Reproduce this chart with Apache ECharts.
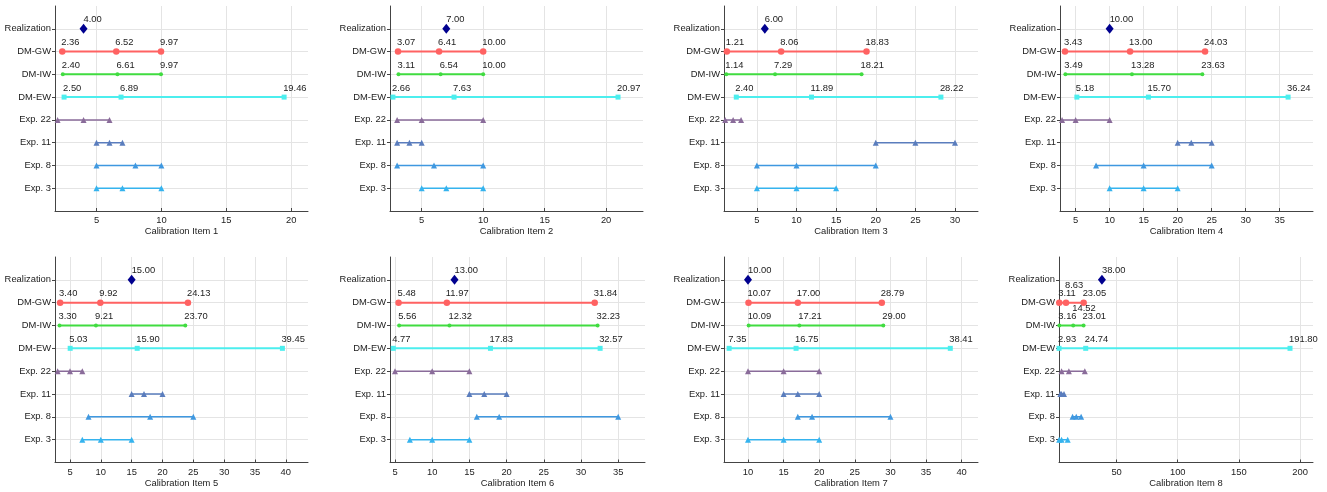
<!DOCTYPE html>
<html>
<head>
<meta charset="utf-8">
<script src="https://cdn.jsdelivr.net/npm/echarts@6/dist/echarts.min.js"></script>
<style>
  html, body { margin: 0; padding: 0; background: #fff; }
  #main { width: 1327px; height: 492px; }
</style>
</head>
<body>
<div id="main"></div>
<script>
// rows from bottom (y = 1) to top (y = 8)
const rowNames = ['Exp. 3', 'Exp. 8', 'Exp. 11', 'Exp. 22', 'DM-EW', 'DM-IW', 'DM-GW', 'Realization'];
const itemNames = ['Calibration Item 1', 'Calibration Item 2', 'Calibration Item 3', 'Calibration Item 4',
  'Calibration Item 5', 'Calibration Item 6', 'Calibration Item 7', 'Calibration Item 8'];

// 5% / 50% / 95% per calibration item
const realization = [4, 7, 6, 10, 15, 13, 10, 38];
const dmGW = [[2.36, 6.52, 9.97], [3.07, 6.41, 10.00], [1.21, 8.06, 18.83], [3.43, 13.00, 24.03],
  [3.40, 9.92, 24.13], [5.48, 11.97, 31.84], [10.07, 17.00, 28.79], [3.11, 8.63, 23.05]];
const dmIW = [[2.40, 6.61, 9.97], [3.11, 6.54, 10.00], [1.14, 7.29, 18.21], [3.49, 13.28, 23.63],
  [3.30, 9.21, 23.70], [5.56, 12.32, 32.23], [10.09, 17.21, 29.00], [3.16, 14.52, 23.01]];
const dmEW = [[2.50, 6.89, 19.46], [2.66, 7.63, 20.97], [2.40, 11.89, 28.22], [5.18, 15.70, 36.24],
  [5.03, 15.90, 39.45], [4.77, 17.83, 32.57], [7.35, 16.75, 38.41], [2.93, 24.74, 191.80]];
const exp22 = [[2, 4, 6], [3, 5, 10], [1, 2, 3], [3, 5, 10], [3, 5, 7], [5, 10, 15], [10, 15, 20], [5, 11, 24]];
const exp11 = [[5, 6, 7], [3, 4, 5], [20, 25, 30], [20, 22, 25], [15, 17, 20], [15, 17, 20], [15, 17, 20], [4, 5, 7]];
const exp8 = [[5, 8, 10], [3, 6, 10], [5, 10, 20], [8, 15, 25], [8, 18, 25], [16, 19, 35], [17, 19, 30], [14, 17, 21]];
const exp3 = [[5, 7, 10], [5, 7, 10], [5, 10, 15], [10, 15, 20], [7, 10, 15], [7, 10, 15], [10, 15, 20], [3, 5, 10]];

// axis limits and tick labels
const xMin = [1.8, 2.42, 0.85, 2.7, 2.57, 4.33, 6.63, 2.9];
const xMax = [21.3, 23.0, 32.9, 39.9, 43.6, 38.6, 42.3, 210.6];
const xTicks = [[5, 10, 15, 20], [5, 10, 15, 20], [5, 10, 15, 20, 25, 30], [5, 10, 15, 20, 25, 30, 35],
  [5, 10, 15, 20, 25, 30, 35, 40], [5, 10, 15, 20, 25, 30, 35], [10, 15, 20, 25, 30, 35, 40], [50, 100, 150, 200]];
const yTicks = [1, 2, 3, 4, 5, 6, 7, 8];

// panel boxes: left, top, width, height
const boxes = [
  [55, 6, 253, 205], [390, 6, 253, 205], [724, 6, 254, 205], [1060, 6, 253, 205],
  [55, 257, 253, 205.5], [390, 257, 255, 205.5], [724, 257, 254, 205.5], [1059, 257, 254, 205.5]
];

const font = '"Liberation Sans", Arial, sans-serif';
const fs = 9.4;
const textColor = '#222';
const axisColor = '#444';
const gridColor = '#e4e4e4';

const rowStyles = [
  { data: exp3, symbol: 'triangle', size: 6, color: '#35b3ee', width: 1.5 },
  { data: exp8, symbol: 'triangle', size: 6, color: '#3f98e0', width: 1.5 },
  { data: exp11, symbol: 'triangle', size: 6, color: '#5a7dbd', width: 1.5 },
  { data: exp22, symbol: 'triangle', size: 6, color: '#8a6c9a', width: 1.5 },
  { data: dmEW, symbol: 'rect', size: 5, color: '#4ceeee', width: 2, labels: true },
  { data: dmIW, symbol: 'circle', size: 4, color: '#40dc40', width: 2, labels: true },
  { data: dmGW, symbol: 'circle', size: 6.5, color: '#ff6262', width: 2, labels: true }
];

const grids = [], xAxes = [], yAxes = [], series = [];

const numLabel = {
  show: true, position: 'inside', align: 'left', verticalAlign: 'middle',
  fontSize: fs, fontFamily: font, color: textColor,
  formatter: p => p.value[0].toFixed(2)
};

boxes.forEach((b, p) => {
  grids.push({ left: b[0], top: b[1], width: b[2], height: b[3], containLabel: false, outerBoundsMode: 'none' });
  xAxes.push({
    type: 'value', gridIndex: p, min: xMin[p], max: xMax[p],
    name: itemNames[p], nameLocation: 'middle', nameGap: 16,
    nameTextStyle: { fontSize: fs, fontFamily: font, color: textColor },
    axisLine: { show: true, onZero: false, lineStyle: { color: axisColor, width: 1 } },
    axisTick: { show: true, inside: true, length: 3, customValues: xTicks[p], lineStyle: { color: axisColor } },
    axisLabel: { customValues: xTicks[p], fontSize: fs, fontFamily: font, color: textColor, margin: 5 },
    splitLine: { show: true, lineStyle: { color: gridColor, width: 1 } }
  });
  yAxes.push({
    type: 'value', gridIndex: p, min: 0, max: 9, interval: 1,
    axisLine: { show: true, onZero: false, lineStyle: { color: axisColor, width: 1 } },
    axisTick: { show: true, length: 3, customValues: yTicks, lineStyle: { color: axisColor } },
    axisLabel: {
      customValues: yTicks, fontSize: fs, fontFamily: font, color: textColor, margin: 4,
      formatter: v => rowNames[v - 1] || ''
    },
    splitLine: { show: true, lineStyle: { color: gridColor, width: 1 } }
  });

  const pxPerUnit = b[2] / (xMax[p] - xMin[p]);
  rowStyles.forEach((st, r) => {
    const vals = st.data[p];
    const data = vals.map((v, i) => {
      const item = { value: [v, r + 1] };
      if (st.labels) {
        let lift = -9;
        if (i === 1) {
          const lowWidth = vals[0].toFixed(2).length * 5.2;
          if ((vals[1] - vals[0]) * pxPerUnit < lowWidth + 2) lift = -17;
        }
        item.label = { offset: [-1, lift] };
      }
      return item;
    });
    series.push({
      type: 'line', xAxisIndex: p, yAxisIndex: p, data,
      symbol: st.symbol, symbolSize: st.size, showAllSymbol: true,
      lineStyle: { color: st.color, width: st.width },
      itemStyle: { color: st.color, opacity: 1 },
      label: st.labels ? numLabel : { show: false },
      silent: true, animation: false, z: 3
    });
  });

  series.push({
    type: 'scatter', xAxisIndex: p, yAxisIndex: p,
    data: [{ value: [realization[p], 8], label: { offset: [0, -9] } }],
    symbol: 'diamond', symbolSize: [8, 10],
    itemStyle: { color: '#00008f', opacity: 1 },
    label: numLabel, silent: true, animation: false, z: 4
  });
});

const chart = echarts.init(document.getElementById('main'), null, { renderer: 'canvas' });
chart.setOption({
  backgroundColor: '#fff',
  animation: false,
  grid: grids,
  xAxis: xAxes,
  yAxis: yAxes,
  series: series
});
</script>
</body>
</html>
